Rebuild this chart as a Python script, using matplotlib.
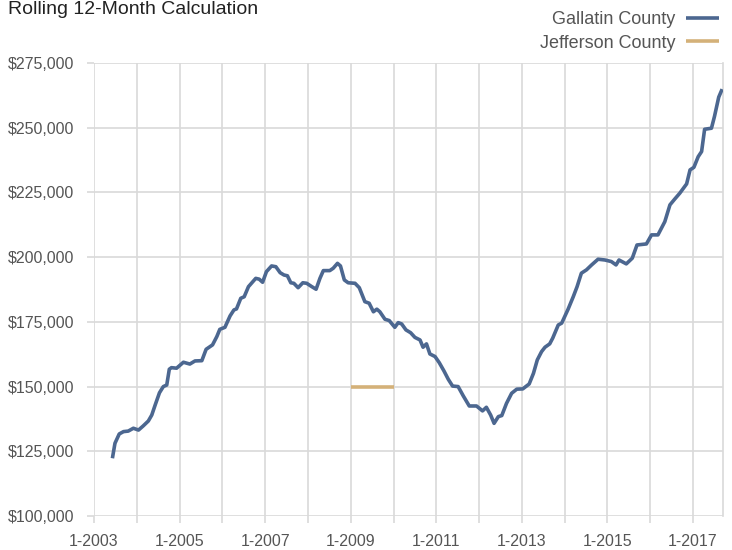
## rolling 12-month median price chart, Gallatin vs Jefferson County

import numpy as np
import matplotlib
matplotlib.use("Agg")
import matplotlib.pyplot as plt
from matplotlib.ticker import FuncFormatter

plt.rcParams['font.family'] = ['Liberation Sans Narrow', 'Liberation Sans', 'DejaVu Sans']

# Gallatin County (decimal year, dollars)
gallatin_t = [2003.43, 2003.49, 2003.59, 2003.69, 2003.80, 2003.92, 2004.04, 2004.15, 2004.27, 2004.35,
              2004.43, 2004.53, 2004.62, 2004.70, 2004.76, 2004.81, 2004.93, 2005.09, 2005.24, 2005.36,
              2005.52, 2005.62, 2005.77, 2005.87, 2005.94, 2006.06, 2006.18, 2006.27, 2006.33, 2006.43,
              2006.51, 2006.61, 2006.68, 2006.78, 2006.86, 2006.94, 2007.03, 2007.15, 2007.25, 2007.35,
              2007.44, 2007.52, 2007.60, 2007.67, 2007.77, 2007.88, 2007.97, 2008.09, 2008.19, 2008.28,
              2008.36, 2008.51, 2008.59, 2008.69, 2008.76, 2008.85, 2008.94, 2009.10, 2009.20, 2009.33,
              2009.43, 2009.53, 2009.61, 2009.68, 2009.80, 2009.90, 2010.03, 2010.11, 2010.19, 2010.29,
              2010.40, 2010.50, 2010.62, 2010.69, 2010.77, 2010.85, 2010.97, 2011.07, 2011.18, 2011.28,
              2011.38, 2011.51, 2011.63, 2011.77, 2011.94, 2012.08, 2012.17, 2012.27, 2012.35, 2012.45,
              2012.53, 2012.64, 2012.76, 2012.88, 2013.02, 2013.17, 2013.27, 2013.36, 2013.46, 2013.54,
              2013.65, 2013.72, 2013.85, 2013.93, 2014.08, 2014.20, 2014.29, 2014.39, 2014.51, 2014.63,
              2014.78, 2014.94, 2015.09, 2015.20, 2015.27, 2015.44, 2015.58, 2015.69, 2015.91, 2016.03,
              2016.18, 2016.34, 2016.46, 2016.57, 2016.69, 2016.85, 2016.93, 2017.02, 2017.12, 2017.20,
              2017.27, 2017.43, 2017.50, 2017.60, 2017.68]
gallatin_v = [122300, 128100, 131700, 132600, 132800, 133900, 133200, 134800, 136700, 139000,
              142900, 147600, 150000, 150600, 156700, 157300, 157100, 159400, 158700, 159900,
              160000, 164400, 166100, 169300, 172100, 172900, 177300, 179600, 180000, 184100,
              184700, 188600, 189900, 191800, 191500, 190300, 194400, 196600, 196300, 194000,
              193100, 192800, 190100, 189900, 188200, 190100, 189900, 188600, 187600, 191800,
              194800, 194800, 195700, 197600, 196600, 191200, 190100, 189900, 188200, 182800,
              182200, 178900, 179900, 178900, 176000, 175500, 172900, 174700, 174200, 171900,
              170800, 169000, 168000, 165200, 166500, 162600, 161600, 159200, 156000, 152800,
              150200, 150000, 146400, 142500, 142500, 140600, 142000, 139000, 135800, 138400,
              138800, 143500, 147400, 149000, 149100, 151000, 155100, 160300, 163500, 165200,
              166500, 168700, 173800, 174500, 179900, 184700, 188600, 193800, 195100, 197000,
              199200, 198900, 198300, 197000, 198900, 197400, 199600, 204700, 205100, 208600,
              208600, 213700, 220200, 222400, 224700, 228300, 233700, 234700, 238800, 240800,
              249400, 249800, 254300, 261800, 264900]

# Jefferson County, only one year shown
jefferson_t = [2009.0, 2010.0]
jefferson_v = [150000, 150000]

year_ticks = list(range(2003, 2018))
price_ticks = list(range(100000, 275001, 25000))

grid_col = "#d9d9d9"
text_col = "#555555"

fig = plt.figure(figsize=(7.32, 5.5), dpi=100)
ax = fig.add_axes([94/732, 1 - 516/550, (723 - 94)/732, (516 - 63)/550])

ax.plot(gallatin_t, gallatin_v, color="#4c6790", lw=2.6, solid_capstyle="butt",
        solid_joinstyle="round", label="Gallatin County", zorder=3)
ax.plot(jefferson_t, jefferson_v, color="#d4b179", lw=2.6, solid_capstyle="butt",
        label="Jefferson County", zorder=3)

ax.set_xlim(2003, 2017.7)
ax.set_ylim(100000, 275000)
ax.set_xticks(year_ticks)
ax.set_xticklabels(["1-%d" % y if y % 2 == 1 else "" for y in year_ticks])
ax.set_yticks(price_ticks)
ax.yaxis.set_major_formatter(FuncFormatter(lambda v, p: "${:,.0f}".format(v)))
ax.grid(True, color=grid_col, lw=1.2)
ax.set_axisbelow(True)
ax.tick_params(axis="both", colors=grid_col, length=5, width=1.2, labelsize=11.5,
               labelcolor=text_col)
ax.tick_params(axis="x", pad=8)
ax.tick_params(axis="y", pad=9)
for side in ["top", "left", "bottom"]:
    ax.spines[side].set_visible(False)
ax.spines["right"].set_color(grid_col)
ax.spines["right"].set_linewidth(1.2)

fig.text(8/732, 1 - 10/550, "Rolling 12-Month Calculation", fontsize=14, color="#222222",
         ha="left", va="center")

leg = fig.legend(loc="upper right", bbox_to_anchor=(726/732, 1 - 4/550), frameon=False,
                 markerfirst=False, fontsize=13, handlelength=1.8, handletextpad=0.6,
                 labelspacing=0.35, borderaxespad=0)
for t in leg.get_texts():
    t.set_color(text_col)

fig.savefig("out.png", dpi=100)
